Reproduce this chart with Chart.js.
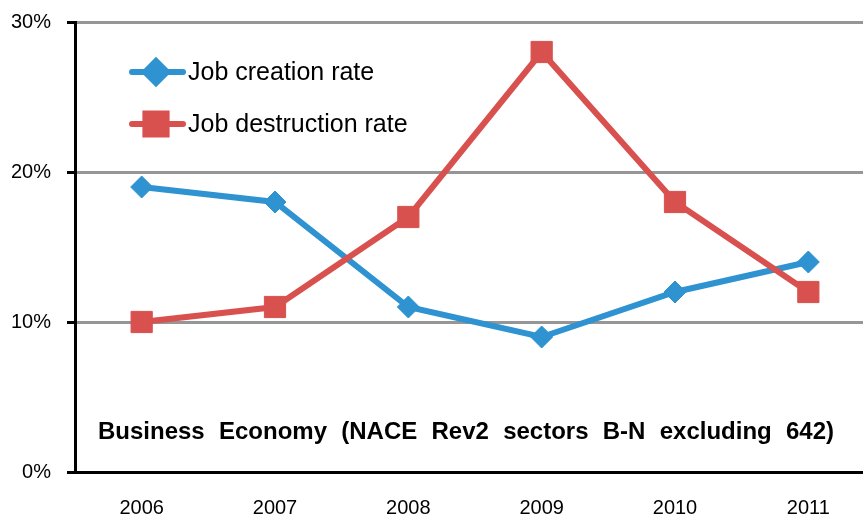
<!DOCTYPE html>
<html>
<head>
<meta charset="utf-8">
<script src="https://cdn.jsdelivr.net/npm/chart.js@4/dist/chart.umd.min.js"></script>
<style>
html,body{margin:0;padding:0;background:#fff;overflow:hidden;}
#wrap{width:863px;height:517px;}
</style>
</head>
<body>
<div id="wrap"><canvas id="c" width="863" height="517"></canvas></div>
<script>
const years = ['2006','2007','2008','2009','2010','2011'];
const jobCreation = [19, 18, 11, 9, 12, 14];
const jobDestruction = [10, 11, 17, 28, 18, 12];
const yTicks = [0, 10, 20, 30];
const seriesNames = ['Job creation rate', 'Job destruction rate'];
const noteText = 'Business Economy (NACE Rev2 sectors B-N excluding 642)';

const BLUE = '#2E93D0';
const RED = '#D9514E';
const FONT = '"Liberation Sans", Arial, sans-serif';

// category index range shown: half a category before the first year;
// the plot runs off the right edge of the picture as in the original
const X_MIN = -0.5;
const X_MAX = 5.41;

const toPoints = arr => arr.map((v, i) => ({x: i, y: v}));

const overlay = {
  id: 'overlay',
  afterDatasetsDraw(chart) {
    const ctx = chart.ctx;
    ctx.save();
    const rows = [
      {y: 72, color: BLUE, style: 'rectRot', r: 11, text: seriesNames[0]},
      {y: 124, color: RED, style: 'rect', r: 15, text: seriesNames[1]}
    ];
    rows.forEach(row => {
      ctx.strokeStyle = row.color;
      ctx.lineWidth = 6;
      ctx.lineCap = 'round';
      ctx.beginPath();
      ctx.moveTo(132, row.y);
      ctx.lineTo(183, row.y);
      ctx.stroke();
      Chart.helpers.drawPoint(ctx, {pointStyle: row.style, radius: row.r, rotation: 0, borderWidth: 1}, 156, row.y);
      ctx.fillStyle = row.color;
      ctx.fill();
      ctx.fillStyle = '#000';
      ctx.font = '25px ' + FONT;
      ctx.textBaseline = 'middle';
      ctx.textAlign = 'left';
      ctx.fillText(row.text, 188, row.y + 1);
    });
    ctx.font = 'bold 24px ' + FONT;
    ctx.fillStyle = '#000';
    ctx.textBaseline = 'alphabetic';
    ctx.textAlign = 'left';
    const words = noteText.split(' ');
    const x0 = 98, x1 = 834;
    const total = words.reduce((s, w) => s + ctx.measureText(w).width, 0);
    const gap = (x1 - x0 - total) / (words.length - 1);
    let x = x0;
    words.forEach(w => {
      ctx.fillText(w, x, 439);
      x += ctx.measureText(w).width + gap;
    });
    ctx.restore();
  }
};

new Chart(document.getElementById('c'), {
  type: 'line',
  data: {
    datasets: [
      {
        label: seriesNames[0],
        data: toPoints(jobCreation),
        borderColor: BLUE,
        backgroundColor: BLUE,
        borderWidth: 6,
        pointStyle: 'rectRot',
        pointRadius: 11,
        pointBorderWidth: 1,
        tension: 0,
        order: 1
      },
      {
        label: seriesNames[1],
        data: toPoints(jobDestruction),
        borderColor: RED,
        backgroundColor: RED,
        borderWidth: 6,
        pointStyle: 'rect',
        pointRadius: 15,
        pointBorderWidth: 1,
        tension: 0,
        order: 0
      }
    ]
  },
  options: {
    responsive: false,
    animation: false,
    layout: {autoPadding: false, padding: {top: 22, right: 0, left: 0, bottom: 0}},
    plugins: {legend: {display: false}, tooltip: {enabled: false}},
    scales: {
      x: {
        type: 'linear',
        min: X_MIN,
        max: X_MAX,
        afterBuildTicks(s) { s.ticks = years.map((_, i) => ({value: i})); },
        grid: {display: true, drawOnChartArea: false, drawTicks: false},
        border: {color: '#000', width: 3},
        ticks: {color: '#000', padding: 24, font: {family: FONT, size: 20}, callback: v => years[v]},
        afterFit(s) { s.height = 45; s.paddingLeft = 0; s.paddingRight = 0; }
      },
      y: {
        min: 0,
        max: 30,
        afterBuildTicks(s) { s.ticks = yTicks.map(v => ({value: v})); },
        grid: {
          color: c => c.tick && c.tick.value === 0 ? '#000' : '#969696',
          lineWidth: 3,
          tickColor: '#000',
          tickWidth: 3,
          tickLength: 8
        },
        border: {color: '#000', width: 3},
        ticks: {color: '#000', padding: 16, font: {family: FONT, size: 20}, callback: v => v + '%'},
        afterFit(s) { s.width = 75; s.paddingTop = 0; s.paddingBottom = 0; }
      }
    }
  },
  plugins: [overlay]
});
</script>
</body>
</html>
